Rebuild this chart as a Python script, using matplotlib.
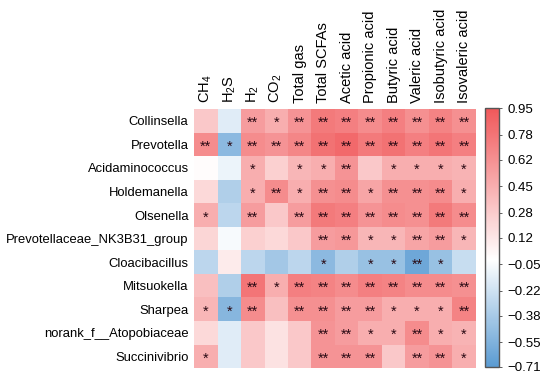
import numpy as np
import matplotlib
matplotlib.use('Agg')
import matplotlib.pyplot as plt
from matplotlib.colors import LinearSegmentedColormap, Normalize

plt.rcParams['font.family'] = ['Liberation Sans', 'DejaVu Sans']
plt.rcParams['mathtext.fontset'] = 'custom'
plt.rcParams['mathtext.rm'] = 'Liberation Sans'
plt.rcParams['mathtext.it'] = 'Liberation Sans:italic'

genera = ['Collinsella', 'Prevotella', 'Acidaminococcus', 'Holdemanella', 'Olsenella',
          'Prevotellaceae_NK3B31_group', 'Cloacibacillus', 'Mitsuokella', 'Sharpea',
          'norank_f__Atopobiaceae', 'Succinivibrio']
variables = ['CH$_4$', 'H$_2$S', 'H$_2$', 'CO$_2$', 'Total gas', 'Total SCFAs', 'Acetic acid',
             'Propionic acid', 'Butyric acid', 'Valeric acid', 'Isobutyric acid', 'Isovaleric acid']

# correlation coefficients (estimated from colours)
r_collinsella = [0.30, -0.15, 0.55, 0.45, 0.60, 0.75, 0.72, 0.65, 0.72, 0.62, 0.70, 0.62]
r_prevotella = [0.65, -0.50, 0.65, 0.60, 0.68, 0.80, 0.85, 0.75, 0.80, 0.72, 0.78, 0.72]
r_acidamino = [0.00, -0.10, 0.45, 0.25, 0.40, 0.45, 0.60, 0.30, 0.45, 0.45, 0.45, 0.42]
r_holdemanella = [0.20, -0.35, 0.45, 0.65, 0.45, 0.62, 0.65, 0.50, 0.62, 0.62, 0.65, 0.45]
r_olsenella = [0.45, -0.30, 0.55, 0.30, 0.55, 0.75, 0.72, 0.60, 0.65, 0.62, 0.75, 0.65]
r_nk3b31 = [0.22, -0.05, 0.25, 0.20, 0.30, 0.55, 0.58, 0.40, 0.40, 0.50, 0.55, 0.40]
r_cloaci = [-0.30, 0.10, -0.30, -0.40, -0.30, -0.50, -0.35, -0.45, -0.45, -0.62, -0.45, -0.25]
r_mitsuokella = [0.35, -0.35, 0.78, 0.45, 0.72, 0.70, 0.65, 0.72, 0.70, 0.65, 0.65, 0.62]
r_sharpea = [0.40, -0.52, 0.65, 0.35, 0.62, 0.62, 0.55, 0.55, 0.45, 0.45, 0.45, 0.70]
r_atopo = [0.20, -0.15, 0.30, 0.15, 0.30, 0.60, 0.55, 0.45, 0.45, 0.65, 0.45, 0.42]
r_succini = [0.45, -0.15, 0.30, 0.15, 0.30, 0.60, 0.60, 0.60, 0.30, 0.55, 0.60, 0.45]

# significance marks
s_collinsella = ['', '', '**', '*', '**', '**', '**', '**', '**', '**', '**', '**']
s_prevotella = ['**', '*', '**', '**', '**', '**', '**', '**', '**', '**', '**', '**']
s_acidamino = ['', '', '*', '', '*', '*', '**', '', '*', '*', '*', '*']
s_holdemanella = ['', '', '*', '**', '*', '**', '**', '*', '**', '**', '**', '*']
s_olsenella = ['*', '', '**', '', '**', '**', '**', '**', '**', '**', '**', '**']
s_nk3b31 = ['', '', '', '', '', '**', '**', '*', '*', '**', '**', '*']
s_cloaci = ['', '', '', '', '', '*', '', '*', '*', '**', '*', '']
s_mitsuokella = ['', '', '**', '*', '**', '**', '**', '**', '**', '**', '**', '**']
s_sharpea = ['*', '*', '**', '', '**', '**', '**', '**', '*', '*', '*', '**']
s_atopo = ['', '', '', '', '', '**', '**', '*', '*', '**', '*', '*']
s_succini = ['*', '', '', '', '', '**', '**', '**', '', '**', '**', '*']

cbar_ticks = [0.95, 0.78, 0.62, 0.45, 0.28, 0.12, -0.05, -0.22, -0.38, -0.55, -0.71]

r = np.array([r_collinsella, r_prevotella, r_acidamino, r_holdemanella, r_olsenella, r_nk3b31,
              r_cloaci, r_mitsuokella, r_sharpea, r_atopo, r_succini])
sig = [s_collinsella, s_prevotella, s_acidamino, s_holdemanella, s_olsenella, s_nk3b31,
       s_cloaci, s_mitsuokella, s_sharpea, s_atopo, s_succini]

vmin, vmax = -0.71, 0.95
w = (-0.02 - vmin) / (vmax - vmin)
cmap = LinearSegmentedColormap.from_list('bwr_custom',
                                         [(0, '#5a9bd2'), (w, '#ffffff'), (1, '#f0585a')])
norm = Normalize(vmin=vmin, vmax=vmax)

fig = plt.figure(figsize=(5.5, 3.76), dpi=100)
ax = fig.add_axes([0.353, 0.021, 0.512, 0.689])
mesh = ax.pcolormesh(r, cmap=cmap, norm=norm)
ax.set_xlim(0, len(variables))
ax.set_ylim(len(genera), 0)

for i in range(len(genera)):
    for j in range(len(variables)):
        if sig[i][j]:
            ax.text(j + 0.5, i + 0.6, sig[i][j], ha='center', va='center',
                    fontsize=10.5, color='#2a0a14')

ax.xaxis.tick_top()
ax.set_xticks(np.arange(len(variables)) + 0.5)
ax.set_xticklabels(variables, rotation=90, fontsize=10.5)
ax.set_yticks(np.arange(len(genera)) + 0.5)
ax.set_yticklabels(genera, fontsize=9.4)
ax.tick_params(length=0, pad=4)
for sp in ax.spines.values():
    sp.set_visible(False)

cax = fig.add_axes([0.882, 0.024, 0.026, 0.688])
cb = fig.colorbar(mesh, cax=cax, ticks=cbar_ticks)
cb.ax.set_yticklabels([('%.2f' % t).replace('-', '\u2212') for t in cbar_ticks])
cb.ax.tick_params(labelsize=9.5, length=2, width=0.6, color='#444444')
cb.outline.set_edgecolor('#555555')
cb.outline.set_linewidth(1.0)

fig.savefig('out.png', dpi=100)
